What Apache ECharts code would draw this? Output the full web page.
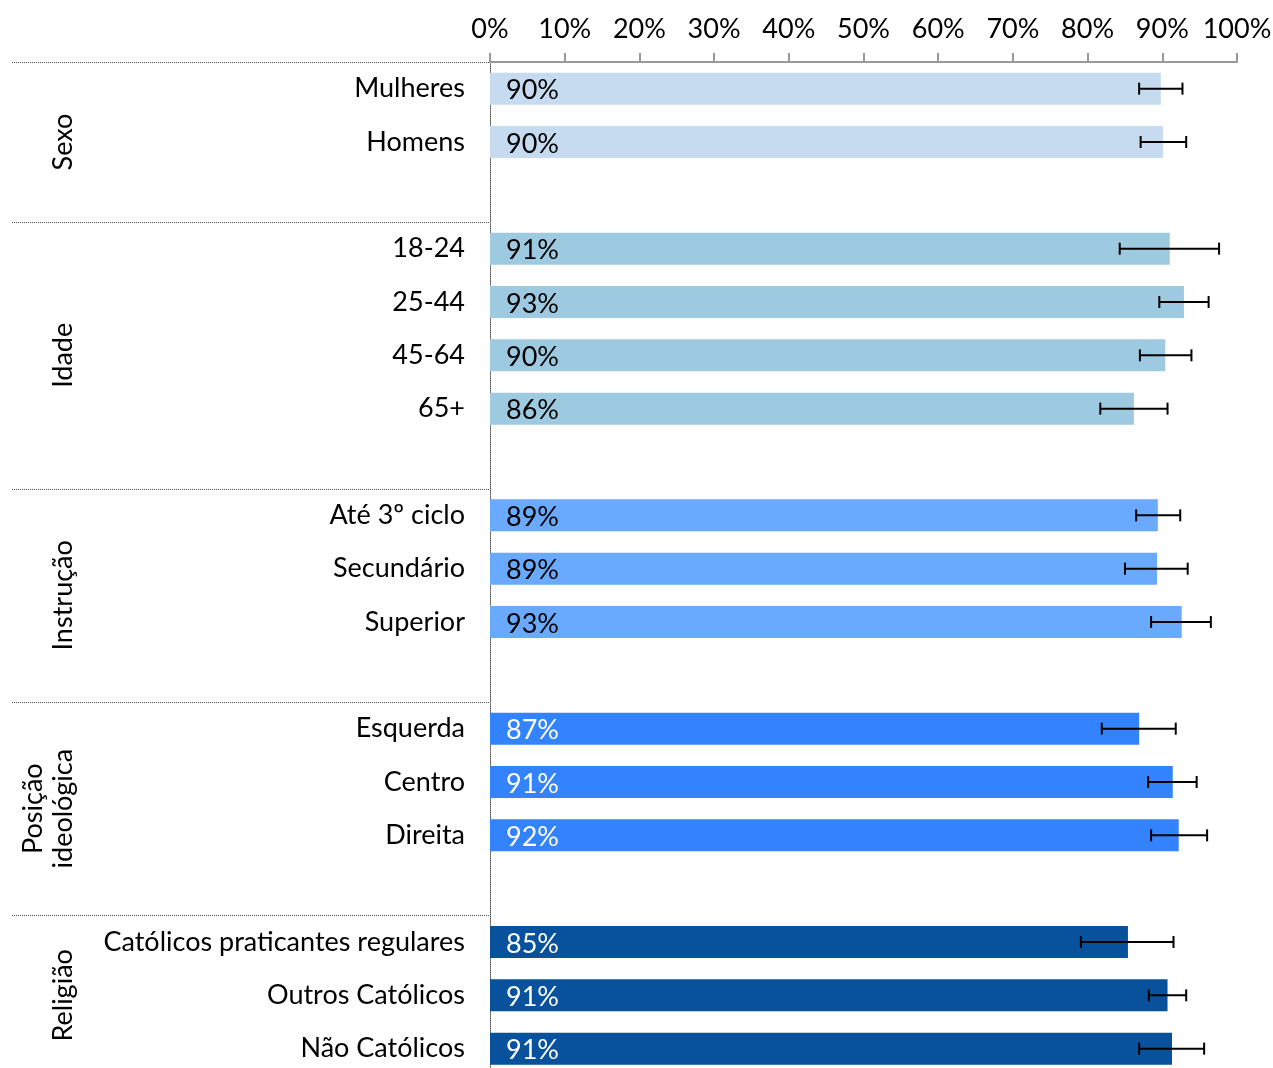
<!DOCTYPE html>
<html><head><meta charset="utf-8">
<script src="https://cdn.jsdelivr.net/npm/echarts@6/dist/echarts.min.js"></script>
<style>html,body{margin:0;padding:0;background:#fff}#c{width:1273px;height:1068px}</style>
</head><body><div id="c"></div>
<script>
// Categories in display order; '' marks a blank spacer slot after each group
const categories = ['Mulheres','Homens','',
  '18-24','25-44','45-64','65+','',
  'Até 3º ciclo','Secundário','Superior','',
  'Esquerda','Centro','Direita','',
  'Católicos praticantes regulares','Outros Católicos','Não Católicos'];
const groups = ['Sexo','Idade','Instrução','Posição\nideológica','Religião'];
const groupOf = [0,0,-1, 1,1,1,1,-1, 2,2,2,-1, 3,3,3,-1, 4,4,4];
const values = [89.8,90.1,null, 91.0,92.9,90.4,86.2,null, 89.4,89.3,92.6,null, 86.9,91.4,92.2,null, 85.4,90.7,91.3];
const errLow = [86.9,87.1,null, 84.3,89.6,87.0,81.7,null, 86.5,85.0,88.5,null, 81.9,88.1,88.5,null, 79.1,88.2,86.9];
const errHigh = [92.7,93.2,null, 97.6,96.2,93.9,90.7,null, 92.4,93.4,96.5,null, 91.8,94.6,96.0,null, 91.5,93.2,95.6];
const xTicks = [0,10,20,30,40,50,60,70,80,90,100];
const groupColors = ['#c6dbef','#9ecae1','#69aaff','#3383ff','#08519c'];
const labelColors = ['#000','#000','#000','#fff','#fff'];

const FONT = 'Lato';
const FS = 27;
const chart = echarts.init(document.getElementById('c'));

const barData = values.map((v,i)=> v==null ? '-' : {
  value: v,
  itemStyle: {color: groupColors[groupOf[i]]},
  label: {color: labelColors[groupOf[i]]}
});
const errData = values.map((v,i)=> v==null ? null : [errLow[i], errHigh[i], i]).filter(d=>d);

chart.setOption({
  animation: false,
  grid: {left: 490, top: 62, width: 747, height: 1013.33, containLabel: false, outerBoundsMode: 'none'},
  xAxis: {
    type: 'value', position: 'top', min: xTicks[0], max: xTicks[xTicks.length-1], interval: 10,
    axisLine: {show: true, lineStyle: {color: '#999', width: 2}},
    axisTick: {show: true, length: 9, lineStyle: {color: '#999', width: 2}},
    splitLine: {show: false},
    axisLabel: {formatter: '{value}%', fontFamily: FONT, fontSize: FS, color: '#000', margin: 19}
  },
  yAxis: {
    type: 'category', inverse: true, data: categories,
    axisLine: {show: true, lineStyle: {color: '#555', width: 1, type: [1,1]}},
    axisTick: {show: false},
    axisLabel: {fontFamily: FONT, fontSize: FS, color: '#000', margin: 25, interval: 0, padding: [7,0,0,0]}
  },
  series: [{
    type: 'bar', data: barData, barWidth: 32,
    label: {show: true, position: 'insideLeft', distance: 16, fontFamily: FONT, fontSize: FS, offset: [0, 2],
      formatter: p => Math.round(p.value) + '%'}
  },{
    type: 'custom', data: errData, encode: {x: [0,1], y: 2}, z: 10,
    renderItem: function(params, api){
      const yi = api.value(2);
      const p1 = api.coord([api.value(0), yi]);
      const p2 = api.coord([api.value(1), yi]);
      const h = 6;
      const st = {stroke: '#000', lineWidth: 2};
      return {type: 'group', children: [
        {type: 'line', shape: {x1: p1[0], y1: p1[1], x2: p2[0], y2: p2[1]}, style: st},
        {type: 'line', shape: {x1: p1[0], y1: p1[1]-h, x2: p1[0], y2: p1[1]+h}, style: st},
        {type: 'line', shape: {x1: p2[0], y1: p2[1]-h, x2: p2[0], y2: p2[1]+h}, style: st}
      ]};
    }
  }]
});

// Group separators and rotated group titles, positioned from the axis scale
function drawGroups(){
  const y0 = chart.convertToPixel({yAxisIndex: 0}, 0);
  const y1 = chart.convertToPixel({yAxisIndex: 0}, 1);
  const band = y1 - y0;
  const xAxisPix = chart.convertToPixel({xAxisIndex: 0}, 0);
  const els = [];
  groups.forEach((g, gi)=>{
    const idx = groupOf.map((v,i)=>v===gi?i:-1).filter(i=>i>=0);
    const first = idx[0], last = idx[idx.length-1];
    const top = chart.convertToPixel({yAxisIndex: 0}, first) - band/2;
    const endIdx = (last+1 < categories.length) ? last+1 : last;
    const bottom = chart.convertToPixel({yAxisIndex: 0}, endIdx) + band/2;
    els.push({type: 'line', shape: {x1: 12, y1: Math.round(top)+0.5, x2: xAxisPix, y2: Math.round(top)+0.5},
      style: {stroke: '#555', lineWidth: 1, lineDash: [1,1]}, silent: true});
    const lines = g.split('\n').length;
    els.push({type: 'text', x: 63 - (lines-1)*15, y: (top+bottom)/2, rotation: Math.PI/2,
      style: {text: g, font: FS + 'px ' + FONT, fill: '#000', align: 'center', verticalAlign: 'middle', lineHeight: 30}});
  });
  chart.setOption({graphic: {elements: els}});
}
drawGroups();
</script></body></html>
